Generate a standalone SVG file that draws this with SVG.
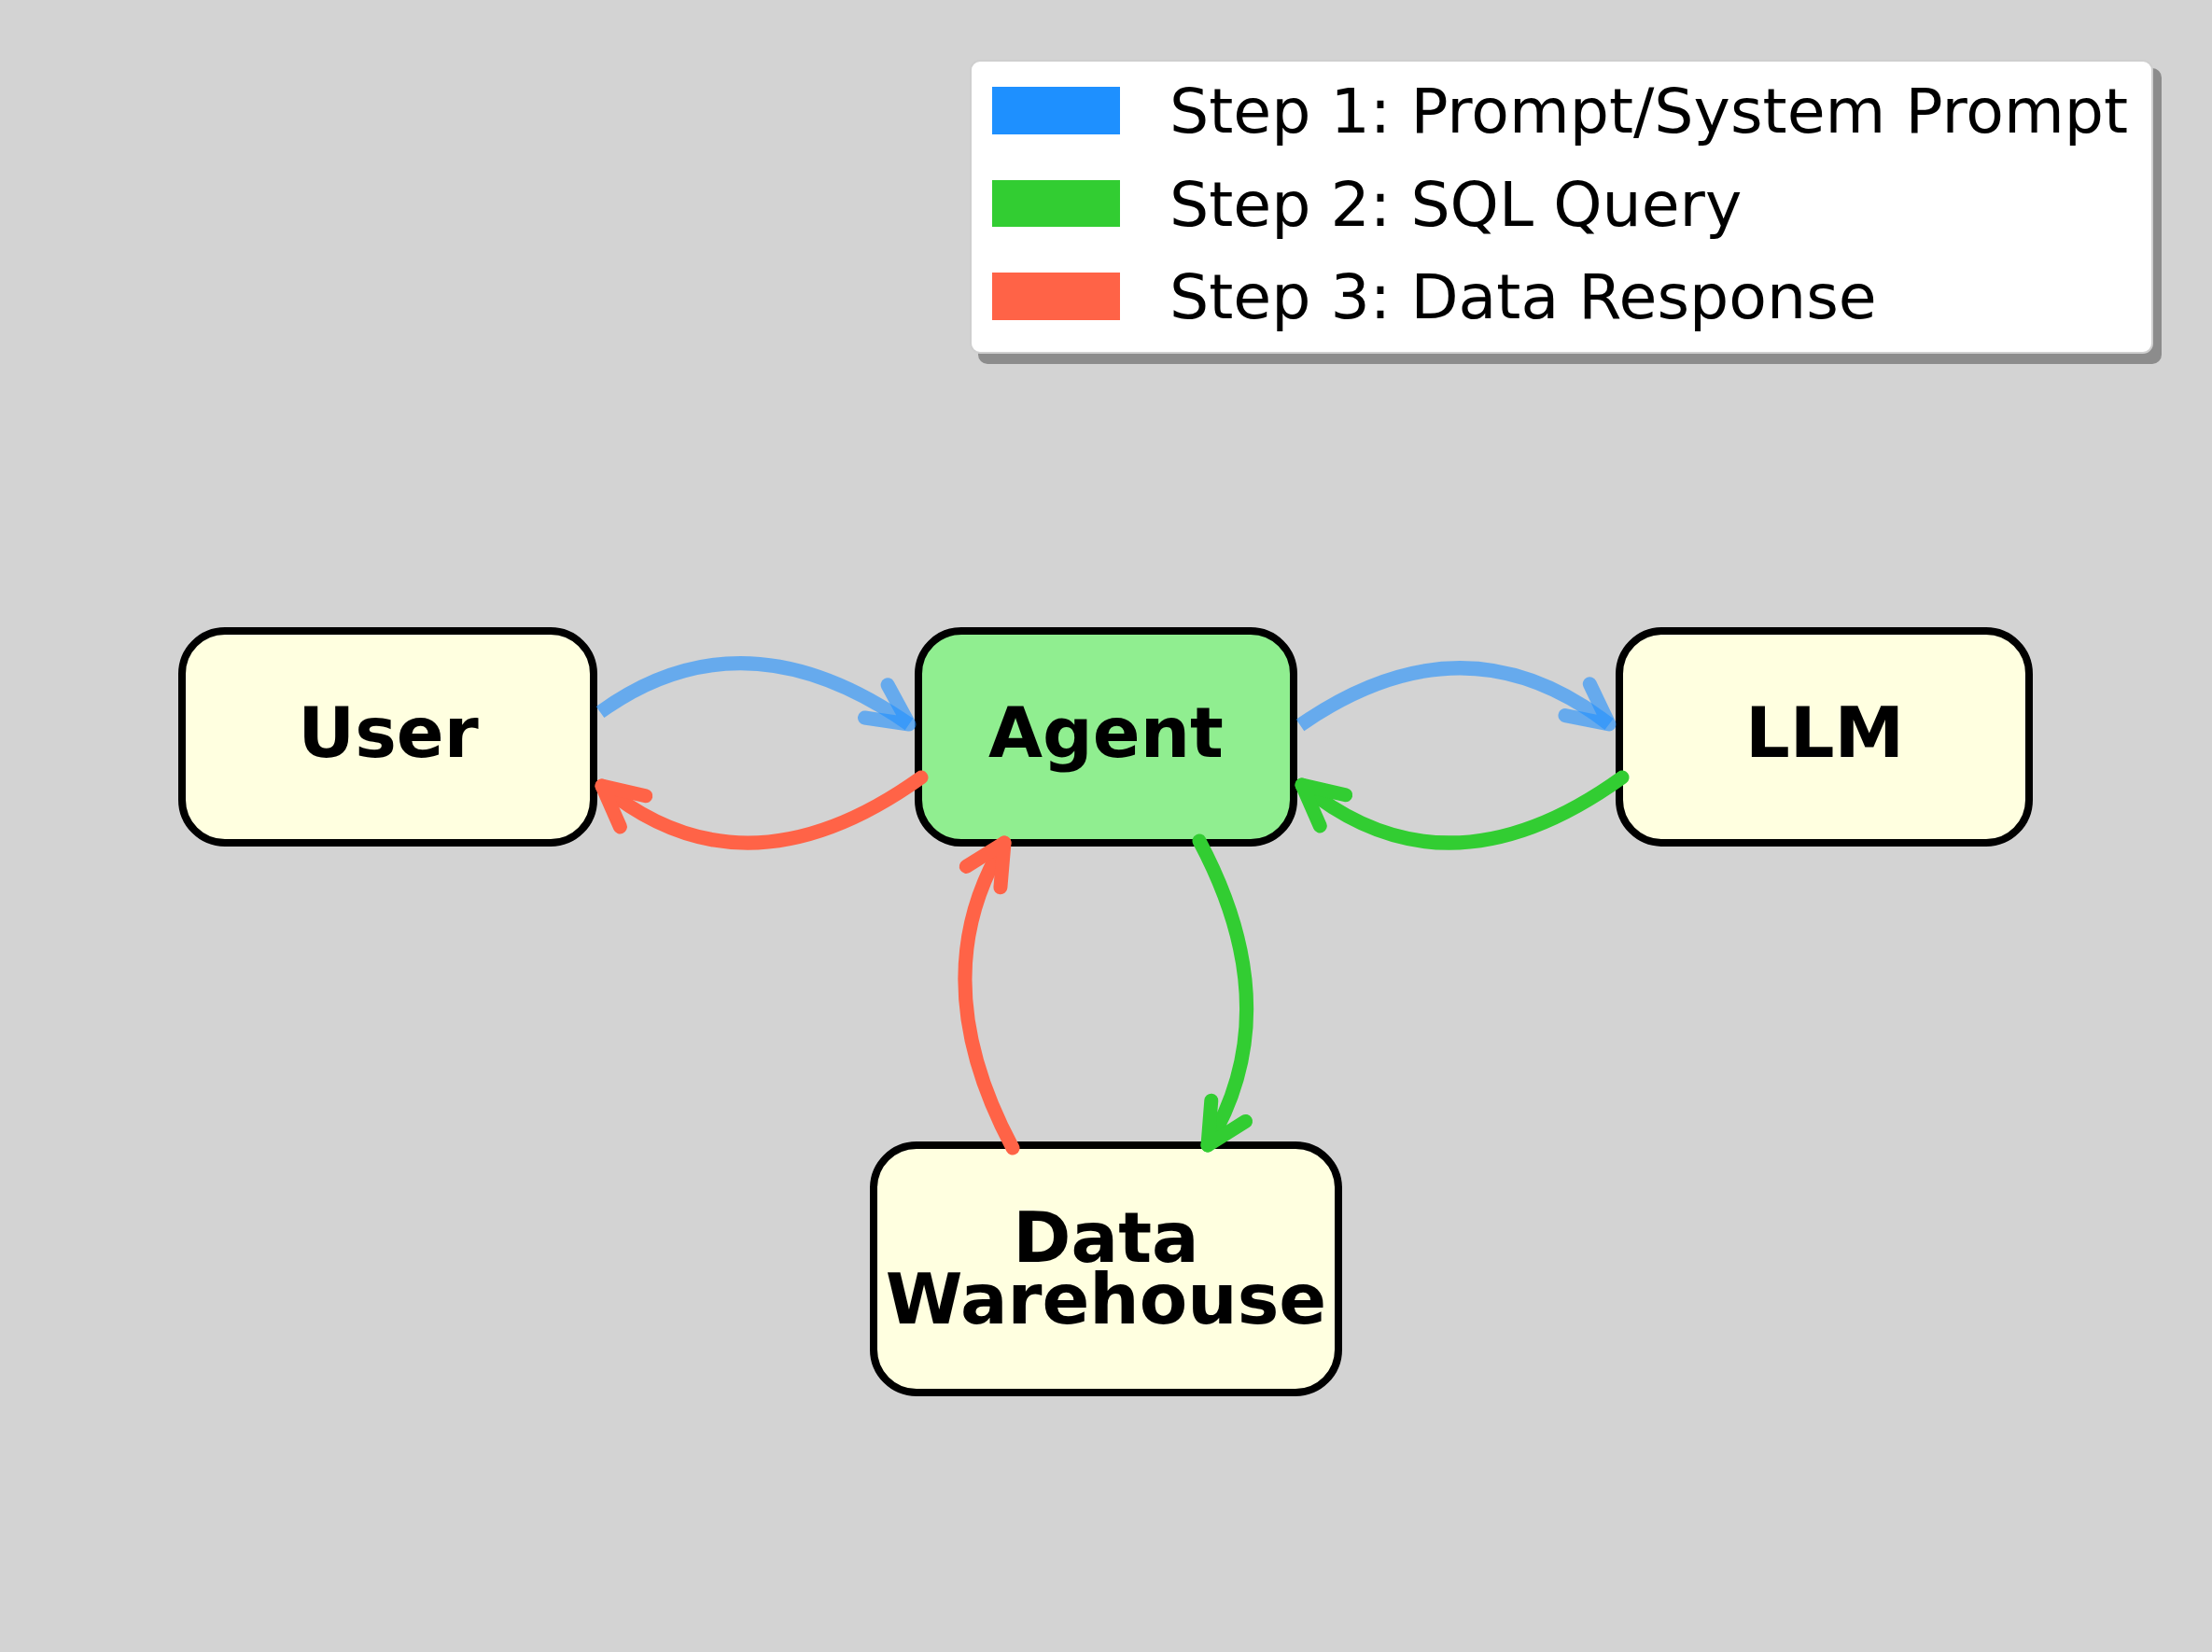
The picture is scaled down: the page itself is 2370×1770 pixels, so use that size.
<svg xmlns="http://www.w3.org/2000/svg" width="2370" height="1770" viewBox="0 0 2370 1770">
<style>
.node{stroke:#000;stroke-width:8}
.yl{fill:#FFFFE0}
.gr{fill:#90EE90}
.lbl{font-family:"DejaVu Sans","Liberation Sans",sans-serif;font-weight:bold;font-size:75px;fill:#000;text-anchor:middle}
.leg{font-family:"DejaVu Sans","Liberation Sans",sans-serif;font-size:66.5px;fill:#000}
.ln{fill:none;stroke-width:15;stroke-linejoin:round}
.hd{fill:none;stroke-width:15;stroke-linecap:round;stroke-linejoin:round}
.blue{stroke:#1E90FF;stroke-opacity:0.6}
.green{stroke:#32CD32}
.red{stroke:#FF6347}
</style>
<rect x="0" y="0" width="2370" height="1770" fill="#D3D3D3"/>
<g id="legend">
<rect x="1048" y="73" width="1268" height="317" rx="10" fill="#8c8c8c"/>
<rect x="1040" y="65" width="1266" height="313" rx="10" fill="#ffffff" stroke="#cfcfcf" stroke-width="2"/>
<rect x="1063" y="93" width="137" height="51" fill="#1E90FF"/>
<rect x="1063" y="193" width="137" height="50" fill="#32CD32"/>
<rect x="1063" y="292" width="137" height="51" fill="#FF6347"/>
<text class="leg" x="1253" y="142">Step 1: Prompt/System Prompt</text>
<text class="leg" x="1253" y="242">Step 2: SQL Query</text>
<text class="leg" x="1253" y="341">Step 3: Data Response</text>
</g>
<g id="node-user">
<rect class="node yl" x="195" y="676" width="441" height="227" rx="46"/>
<text class="lbl" x="416" y="811">User</text>
</g>
<g id="node-agent">
<rect class="node gr" x="984" y="676" width="402" height="227" rx="46"/>
<text class="lbl" x="1185" y="811">Agent</text>
</g>
<g id="node-llm">
<rect class="node yl" x="1735" y="676" width="439" height="227" rx="46"/>
<text class="lbl" x="1955" y="811">LLM</text>
</g>
<g id="node-dw">
<rect class="node yl" x="936" y="1227" width="498" height="265" rx="46"/>
<text class="lbl" x="1185" y="1352">Data</text>
<text class="lbl" x="1185" y="1418">Warehouse</text>
</g>
<g id="connectors">
<path class="ln blue" stroke-linecap="butt" d="M643,763 Q796.5,652 974,776"/>
<path class="hd blue" d="M951.1,733.8 L974,776 L926.5,769"/>
<path class="ln blue" stroke-linecap="butt" d="M1393,777 Q1568.5,655 1724,776"/>
<path class="hd blue" d="M1703.3,732.7 L1724,776 L1677,766.6"/>
<path class="ln red" stroke-linecap="round" d="M987,833 Q798,968.5 645,842"/>
<path class="hd red" d="M691.8,852.8 L645,842 L664.4,885.9"/>
<path class="ln green" stroke-linecap="round" d="M1738,833 Q1549.5,969 1395,841"/>
<path class="hd green" d="M1441.7,851.8 L1395,841 L1414.3,884.9"/>
<path class="ln red" stroke-linecap="round" d="M1085,1230 Q987.5,1047.5 1076,903"/>
<path class="hd red" d="M1035.3,928.4 L1076,903 L1071.9,950.8"/>
<path class="ln green" stroke-linecap="round" d="M1285,901 Q1381.5,1082 1294,1227"/>
<path class="hd green" d="M1334.6,1201.4 L1294,1227 L1297.8,1179.2"/>
</g>
</svg>
